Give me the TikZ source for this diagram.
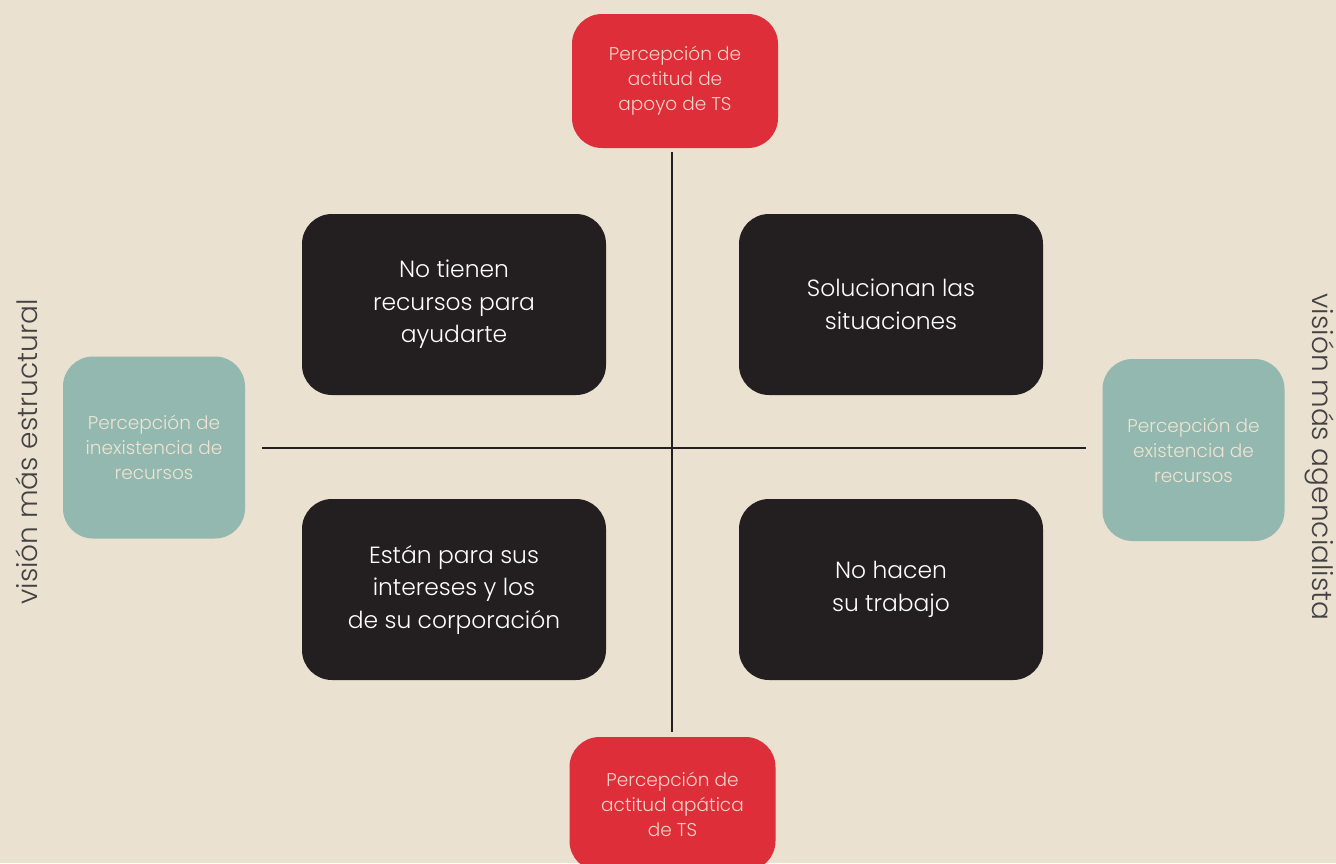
\documentclass[tikz,border=0pt]{standalone}
\usepackage{fontspec}
\setmainfont{Poppins}[UprightFont={* Light}]
\definecolor{bgc}{HTML}{EBE1D1}
\definecolor{redc}{HTML}{DD2E3A}
\definecolor{tealc}{HTML}{93B8AF}
\definecolor{darkc}{HTML}{231F20}
\definecolor{redtxt}{HTML}{F6D3C6}
\definecolor{tealtxt}{HTML}{EFE4D4}
\tikzset{
  quad/.style={fill=darkc, rounded corners=30pt, minimum width=304pt, minimum height=181pt, text=white, align=center, font=\fontsize{23.4}{32.5}\selectfont, inner sep=0pt},
  redbox/.style={fill=redc, rounded corners=30pt, minimum width=206pt, minimum height=134pt, text=redtxt, align=center, font=\fontsize{18.5}{25}\selectfont, inner sep=0pt},
  tealbox/.style={fill=tealc, rounded corners=30pt, minimum width=182pt, minimum height=182pt, text=tealtxt, align=center, font=\fontsize{18.5}{25}\selectfont, inner sep=0pt},
  axisline/.style={draw=darkc, line width=2.8pt},
  sidelabel/.style={text=darkc!85, font=\fontsize{28}{30}\selectfont, inner sep=0pt}
}
\begin{document}
\begin{tikzpicture}[x=1pt,y=-1pt]
\fill[bgc] (0,0) rectangle (1336,863);
\useasboundingbox (0,0) rectangle (1336,863);
% axes
\coordinate (vt) at (672,152);
\coordinate (vb) at (672,732);
\coordinate (hl) at (262,448);
\coordinate (hr) at (1086,448);
\draw[axisline] (vt) -- (vb);
\draw[axisline] (hl) -- (hr);
% quadrant boxes
\node[quad] (tl) at (454,304.5) {No tienen\\recursos para\\ayudarte};
\node[quad] (tr) at (891,304.5) {Solucionan las\\situaciones};
\node[quad] (bl) at (454,589.5) {Están para sus\\intereses y los\\de su corporación};
\node[quad] (br) at (891,589.5) {No hacen\\su trabajo};
% red boxes
\node[redbox] (top) at (675,81) {Percepción de\\actitud de\\apoyo de TS};
\node[redbox] (bot) at (672.5,804) {Percepción de\\actitud apática\\de TS};
% teal boxes
\node[tealbox] (lt) at (154,447.5) {Percepción de\\inexistencia de\\recursos};
\node[tealbox] (rt) at (1193.5,450) {Percepción de\\existencia de\\recursos};
% side labels
\node[sidelabel, rotate=90] (ll) at (27,452) {visión más estructural};
\node[sidelabel, rotate=-90] (rl) at (1320,457) {visión más agencialista};
\end{tikzpicture}
\end{document}
